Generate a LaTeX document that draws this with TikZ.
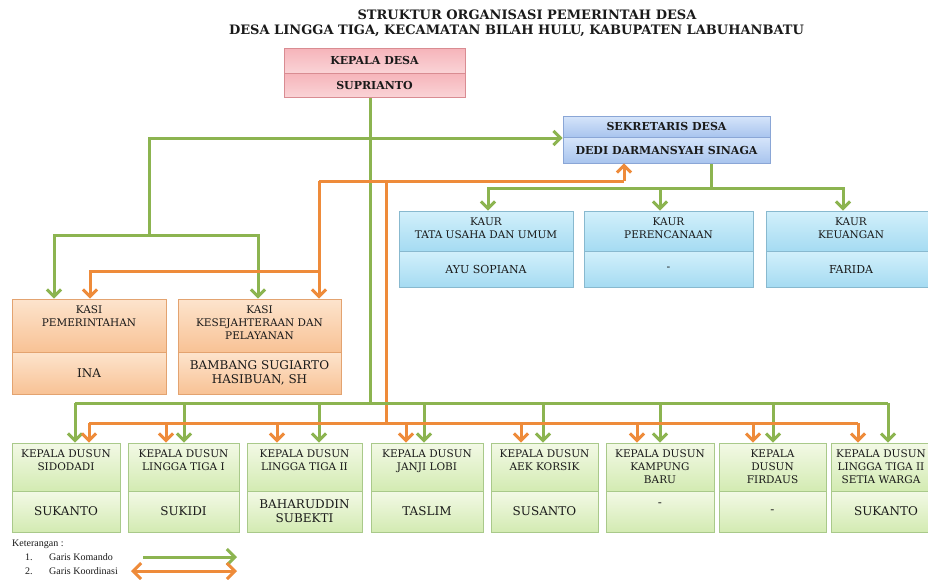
\documentclass[tikz,border=0pt]{standalone}
\usepackage{fontspec}
\setmainfont{DejaVu Serif}
\newfontfamily\legendfont{Liberation Serif}
\usetikzlibrary{arrows.meta,shadows}
\definecolor{txt}{HTML}{1A1A1A}
\definecolor{cmdgreen}{HTML}{8CB450}
\definecolor{coordorange}{HTML}{EE8B3A}
\definecolor{pinktop}{HTML}{F6B4BA}\definecolor{pinkbot}{HTML}{FAD3D6}\definecolor{pinkborder}{HTML}{D98C92}
\definecolor{bluetop}{HTML}{D6E5FA}\definecolor{bluebot}{HTML}{A8C4EE}\definecolor{blueborder}{HTML}{8AA6D6}
\definecolor{cyantop}{HTML}{D2F0FB}\definecolor{cyanbot}{HTML}{A5DBF2}\definecolor{cyanborder}{HTML}{88B9CF}
\definecolor{peachtop}{HTML}{FDE4CD}\definecolor{peachbot}{HTML}{F8C295}\definecolor{peachborder}{HTML}{E3A370}
\definecolor{greentop}{HTML}{F3F9E6}\definecolor{greenbot}{HTML}{D3EBB2}\definecolor{greenborder}{HTML}{A9C98A}
\newcommand{\orgfhead}{\fontsize{10.5}{13}\selectfont}
\newcommand{\orgfname}{\fontsize{11}{14}\selectfont}
\newcommand{\orgfdname}{\fontsize{12}{14}\selectfont}
\newcommand{\orgfbold}{\bfseries\fontsize{11}{13}\selectfont}
\newcommand{\orgftitle}{\bfseries\fontsize{13}{15}\selectfont}
\newcommand{\orgcell}[7]{%
  \pgfmathsetmacro{\orgcw}{#4-#2}%
  \pgfmathsetmacro{\orgch}{#5-#3}%
  \node[#6, minimum width=\orgcw pt, minimum height=\orgch pt] (#1) at ({(#2+#4)/2},{(#3+#5)/2}) {#7};%
}
\begin{document}
\begin{tikzpicture}[x=1pt,y=-1pt,
  cellbase/.style={rectangle, line width=0.8pt, inner sep=0pt, align=center, text=txt,
    drop shadow={shadow xshift=0.6pt, shadow yshift=-1.2pt, opacity=0.25, fill=black}},
  pinkcell/.style={cellbase, draw=pinkborder, top color=pinktop, bottom color=pinkbot},
  bluecell/.style={cellbase, draw=blueborder, top color=bluetop, bottom color=bluebot},
  cyancell/.style={cellbase, draw=cyanborder, top color=cyantop, bottom color=cyanbot},
  peachcell/.style={cellbase, draw=peachborder, top color=peachtop, bottom color=peachbot},
  greencell/.style={cellbase, draw=greenborder, top color=greentop, bottom color=greenbot},
  hdrlabel/.style={anchor=north, yshift=-7pt, inner sep=0pt, align=center, font=\orgfhead, text=txt},
  hdr/.style={label={[hdrlabel]north:{#1}}},
  hdrleft/.style={label={[hdrlabel,xshift=-5pt]north:{#1}}},
  cmdline/.style={draw=cmdgreen, line width=3pt},
  coordline/.style={draw=coordorange, line width=3pt},
  cmdarrow/.style={cmdline, -{Straight Barb[length=7pt,width=14pt]}},
  coordarrow/.style={coordline, -{Straight Barb[length=7pt,width=14pt]}},
  legtext/.style={anchor=west, inner sep=0pt, font=\legendfont\fontsize{10}{11}\selectfont, text=txt}
]
\useasboundingbox (0,0) rectangle (928,579);
\fill[white] (0,0) rectangle (928,579);
\clip (0,0) rectangle (928,579);

% title
\node[font=\orgftitle, text=txt, inner sep=0pt] (title1) at (527,14.5) {STRUKTUR ORGANISASI PEMERINTAH DESA};
\node[font=\orgftitle, text=txt, inner sep=0pt] (title2) at (516.5,30.5) {DESA LINGGA TIGA, KECAMATAN BILAH HULU, KABUPATEN LABUHANBATU};

% named junctions
\coordinate (gA) at (370,138);
\coordinate (gB) at (149,138);
\coordinate (gC) at (149,235);
\coordinate (gbus) at (370,403);
\coordinate (sbus) at (711,188);
\coordinate (oA) at (386,181);
\coordinate (oB) at (319,181);
\coordinate (oC) at (319,271);
\coordinate (oE) at (624,181);
\coordinate (obus) at (386,423);

% ---------- connectors (drawn first, boxes on top)
\draw[cmdline] (370,97) -- (gbus);
\draw[cmdline] (gA) -- (gB) -- (gC);
\draw[cmdline] (711,163) -- (sbus);
\draw[coordline] (obus) -- (oA);
\draw[coordline] (oB) -- (oE);

% ---------- boxes
% Kepala Desa
\orgcell{kd}{284}{48}{465}{73}{pinkcell,font=\orgfbold}{KEPALA DESA}
\orgcell{kdn}{284}{73}{465}{97}{pinkcell,font=\orgfbold}{SUPRIANTO}
% Sekretaris
\orgcell{sek}{563}{116}{770}{137}{bluecell,font=\orgfbold}{SEKRETARIS DESA}
\orgcell{sekn}{563}{137}{770}{163}{bluecell,font=\orgfbold}{DEDI DARMANSYAH SINAGA}
% Kaur
\orgcell{ka1}{399}{211}{573}{251}{cyancell,hdr={KAUR\\TATA USAHA DAN UMUM}}{}
\orgcell{ka1n}{399}{251}{573}{287}{cyancell,font=\orgfname}{AYU SOPIANA}
\orgcell{ka2}{584}{211}{753}{251}{cyancell,hdr={KAUR\\PERENCANAAN}}{}
\orgcell{ka2n}{584}{251}{753}{287}{cyancell,font=\orgfname}{-}
\orgcell{ka3}{766}{211}{936}{251}{cyancell,hdr={KAUR\\KEUANGAN}}{}
\orgcell{ka3n}{766}{251}{936}{287}{cyancell,font=\orgfname}{FARIDA}
% Kasi
\orgcell{ks1}{12}{299}{166}{352}{peachcell,hdr={KASI\\PEMERINTAHAN}}{}
\orgcell{ks1n}{12}{352}{166}{394}{peachcell,font=\orgfdname}{INA}
\orgcell{ks2}{178}{299}{341}{352}{peachcell,hdr={KASI\\KESEJAHTERAAN DAN\\PELAYANAN}}{}
\orgcell{ks2n}{178}{352}{341}{394}{peachcell,font=\orgfdname}{BAMBANG SUGIARTO\\HASIBUAN, SH}
% Dusun
\orgcell{d1}{12}{443}{120}{491}{greencell,hdr={KEPALA DUSUN\\SIDODADI}}{}
\orgcell{d1n}{12}{491}{120}{532}{greencell,font=\orgfdname}{SUKANTO}
\orgcell{d2}{128}{443}{239}{491}{greencell,hdr={KEPALA DUSUN\\LINGGA TIGA I}}{}
\orgcell{d2n}{128}{491}{239}{532}{greencell,font=\orgfdname}{SUKIDI}
\orgcell{d3}{247}{443}{362}{491}{greencell,hdr={KEPALA DUSUN\\LINGGA TIGA II}}{}
\orgcell{d3n}{247}{491}{362}{532}{greencell,font=\orgfdname}{BAHARUDDIN\\SUBEKTI}
\orgcell{d4}{371}{443}{483}{491}{greencell,hdr={KEPALA DUSUN\\JANJI LOBI}}{}
\orgcell{d4n}{371}{491}{483}{532}{greencell,font=\orgfdname}{TASLIM}
\orgcell{d5}{491}{443}{598}{491}{greencell,hdr={KEPALA DUSUN\\AEK KORSIK}}{}
\orgcell{d5n}{491}{491}{598}{532}{greencell,font=\orgfdname}{SUSANTO}
\orgcell{d6}{606}{443}{714}{491}{greencell,hdr={KEPALA DUSUN\\KAMPUNG\\BARU}}{}
\orgcell{d6n}{606}{491}{714}{532}{greencell,font=\orgfdname}{-\\\mbox{}}
\orgcell{d7}{719}{443}{826}{491}{greencell,hdr={KEPALA\\DUSUN\\FIRDAUS}}{}
\orgcell{d7n}{719}{491}{826}{532}{greencell,font=\orgfdname}{-}
\orgcell{d8}{831}{443}{941}{491}{greencell,hdrleft={KEPALA DUSUN\\LINGGA TIGA II\\SETIA WARGA}}{}
\orgcell{d8n}{831}{491}{941}{532}{greencell,font=\orgfdname}{SUKANTO}

% ---------- arrows into boxes
% command
\draw[cmdarrow] (gA) -- (sek.south west |- gA);
\draw[cmdarrow] (gC) -| (ks1.north -| 54,0);
\draw[cmdarrow] (gC) -| (ks2.north -| 258,0);
\draw[cmdarrow] (sbus) -| (ka1.north -| 488,0);
\draw[cmdarrow] (sbus) -- (sbus -| 660,0) -- (ka2.north -| 660,0);
\draw[cmdarrow] (sbus) -| (ka3.north -| 843,0);
\draw[cmdline] (gbus -| 75,0) -- (gbus -| 888,0);
\draw[cmdarrow] (gbus -| 75,0) -- (d1.north -| 75,0);
\draw[cmdarrow] (gbus -| 184,0) -- (d2.north -| 184,0);
\draw[cmdarrow] (gbus -| 319,0) -- (d3.north -| 319,0);
\draw[cmdarrow] (gbus -| 424,0) -- (d4.north -| 424,0);
\draw[cmdarrow] (gbus -| 543,0) -- (d5.north -| 543,0);
\draw[cmdarrow] (gbus -| 660,0) -- (d6.north -| 660,0);
\draw[cmdarrow] (gbus -| 773,0) -- (d7.north -| 773,0);
\draw[cmdarrow] (gbus -| 888,0) -- (d8.north -| 888,0);
% coordination
\draw[coordarrow] (oE) -- (sekn.south -| oE);
\draw[coordarrow] (oB) -- (ks2.north -| oB);
\draw[coordarrow] (oC) -| (ks1.north -| 90,0);
\draw[coordline] (obus -| 89,0) -- (obus -| 858,0);
\draw[coordarrow] (obus -| 89,0) -- (d1.north -| 89,0);
\draw[coordarrow] (obus -| 166,0) -- (d2.north -| 166,0);
\draw[coordarrow] (obus -| 277,0) -- (d3.north -| 277,0);
\draw[coordarrow] (obus -| 406,0) -- (d4.north -| 406,0);
\draw[coordarrow] (obus -| 521,0) -- (d5.north -| 521,0);
\draw[coordarrow] (obus -| 637,0) -- (d6.north -| 637,0);
\draw[coordarrow] (obus -| 753,0) -- (d7.north -| 753,0);
\draw[coordarrow] (obus -| 858,0) -- (d8.north -| 858,0);

% ---------- legend
\node[legtext] (ket) at (12,544) {Keterangan :};
\node[legtext] (l1n) at (25,557) {1.};
\node[legtext] (l1) at (49,557) {Garis Komando};
\node[legtext] (l2n) at (25,571) {2.};
\node[legtext] (l2) at (49,571) {Garis Koordinasi};
\coordinate (lg1a) at (143,557);
\coordinate (lg1b) at (237,557);
\coordinate (lg2a) at (131,571);
\coordinate (lg2b) at (237,571);
\draw[cmdline, -{Straight Barb[length=8pt,width=16pt]}] (lg1a) -- (lg1b);
\draw[coordline, {Straight Barb[length=8pt,width=16pt]}-{Straight Barb[length=8pt,width=16pt]}] (lg2a) -- (lg2b);
\end{tikzpicture}
\end{document}
